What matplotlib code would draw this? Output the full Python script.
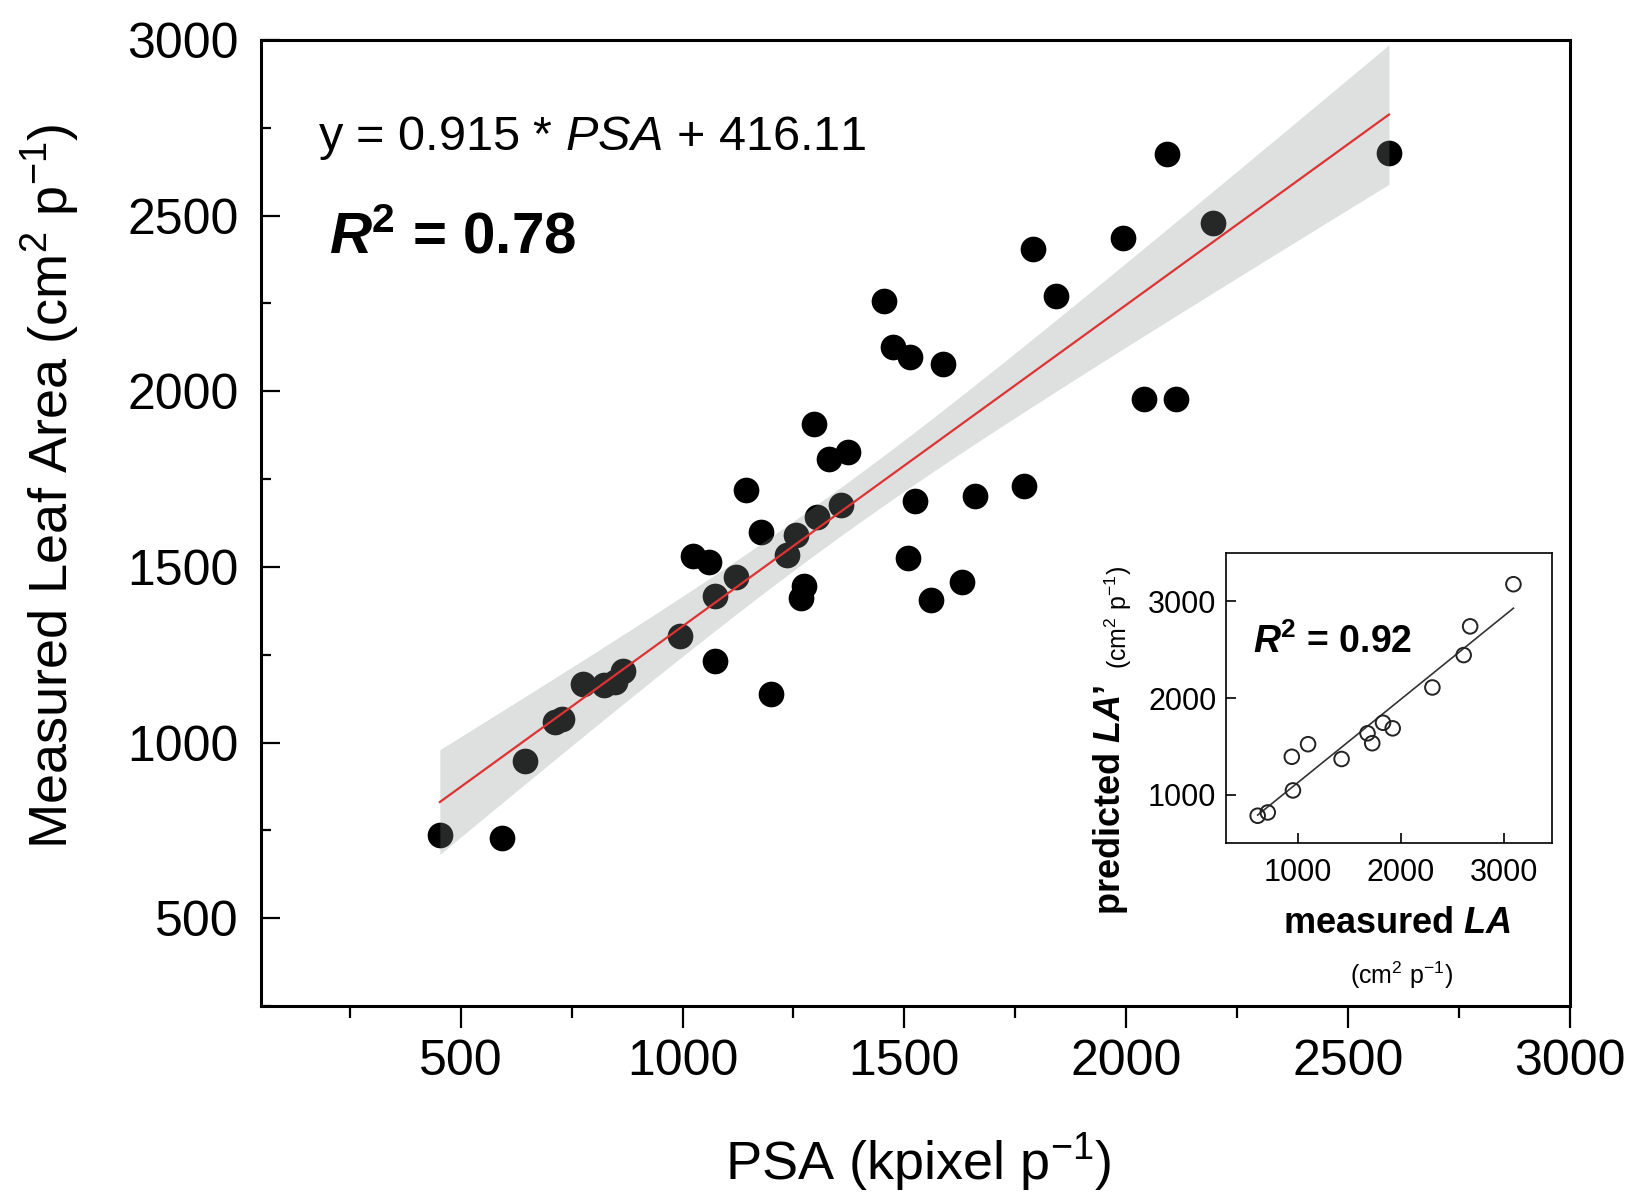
import numpy as np
import matplotlib
matplotlib.use("Agg")
import matplotlib.pyplot as plt
from matplotlib.ticker import MultipleLocator, FixedLocator

plt.rcParams['font.family'] = ['Liberation Sans', 'DejaVu Sans']
plt.rcParams['mathtext.fontset'] = 'custom'
plt.rcParams['mathtext.rm'] = 'Liberation Sans'
plt.rcParams['mathtext.it'] = 'Liberation Sans:italic'
plt.rcParams['mathtext.bf'] = 'Liberation Sans:bold'
plt.rcParams['mathtext.bfit'] = 'Liberation Sans:bold:italic'

# ---------------- data ----------------
psa = [453, 594, 646, 712, 729, 776, 823, 847, 865, 995,
       1073, 1073, 1120, 1023, 1059, 1144, 1177, 1200, 1236, 1255,
       1273, 1266, 1302, 1297, 1330, 1358, 1372, 1455, 1474, 1512,
       1507, 1523, 1561, 1587, 1629, 1658, 1769, 1790, 1842, 1993,
       2040, 2092, 2113, 2195, 2592]
leaf_area = [737, 729, 948, 1058, 1067, 1168, 1165, 1171, 1204, 1302,
             1233, 1417, 1471, 1530, 1515, 1720, 1599, 1138, 1533, 1592,
             1447, 1411, 1643, 1907, 1806, 1676, 1827, 2258, 2127, 2097,
             1524, 1688, 1406, 2079, 1456, 1702, 1729, 2406, 2270, 2436,
             1979, 2676, 1979, 2480, 2679]

SLOPE = 0.915
INTERCEPT = 416.11
R2_MAIN = 0.78
T_95 = 2.017   # t quantile, df = n - 2

measured_la = [608, 706, 951, 940, 1098, 1424, 1676, 1722, 1827, 1921,
               2307, 2611, 2674, 3095]
predicted_la = [782, 816, 1044, 1392, 1522, 1369, 1635, 1532, 1744, 1686,
                2109, 2444, 2741, 3177]
R2_INSET = 0.92

main_ticks = [500, 1000, 1500, 2000, 2500, 3000]
inset_ticks = [1000, 2000, 3000]

# ---------------- figure ----------------
W, H = 1638, 1201
fig = plt.figure(figsize=(W / 100, H / 100), dpi=100)

ax = fig.add_axes([261 / W, 1 - 1006 / H, 1309 / W, 966 / H])
x = np.array(psa, float)
y = np.array(leaf_area, float)

ax.scatter(x, y, s=18.5 ** 2, c='black', linewidths=0, zorder=2)

# regression line and confidence band
xs = np.linspace(x.min(), x.max(), 200)
ys = SLOPE * xs + INTERCEPT
n = len(x)
resid = y - (SLOPE * x + INTERCEPT)
s = np.sqrt(np.sum(resid ** 2) / (n - 2))
sxx = np.sum((x - x.mean()) ** 2)
half = T_95 * s * np.sqrt(1.0 / n + (xs - x.mean()) ** 2 / sxx)
ax.fill_between(xs, ys - half, ys + half, color='#8a9090', alpha=0.28,
                linewidth=0, zorder=3)
ax.plot(xs, ys, color='#dd3333', lw=1.6, zorder=4)

ax.set_xlim(50, 3000)
ax.set_ylim(250, 3000)
ax.xaxis.set_major_locator(FixedLocator(main_ticks))
ax.yaxis.set_major_locator(FixedLocator(main_ticks))
ax.xaxis.set_minor_locator(MultipleLocator(500, offset=250))
ax.yaxis.set_minor_locator(MultipleLocator(500, offset=250))
ax.tick_params(axis='x', which='major', direction='out', length=16, width=1.6,
               labelsize=36, pad=8)
ax.tick_params(axis='x', which='minor', direction='out', length=8.5, width=1.6)
ax.tick_params(axis='y', which='major', direction='in', length=14, width=1.6,
               labelsize=36, pad=16)
ax.tick_params(axis='y', which='minor', direction='in', length=7, width=1.6)
for sp in ax.spines.values():
    sp.set_linewidth(2.2)

ax.text(0.0435, 0.886, f'y = {SLOPE:.3f} * $\\mathit{{PSA}}$ + {INTERCEPT:.2f}',
        transform=ax.transAxes, fontsize=35, va='baseline', ha='left')
ax.text(0.052, 0.779, r'$\mathbfit{R}^{\mathbf{2}}$' + f' = {R2_MAIN:.2f}',
        transform=ax.transAxes, fontsize=42, fontweight='bold',
        va='baseline', ha='left')

fig.text(918 / W, 1 - 1163 / H, 'PSA (kpixel p$^{-1}$)', fontsize=39,
         ha='center', va='center')
fig.text(50 / W, 1 - 486 / H, 'Measured Leaf Area (cm$^2$ p$^{-1}$)',
         fontsize=39, rotation=90, ha='center', va='center')

# ---------------- inset ----------------
ax2 = fig.add_axes([1226 / W, 1 - 843 / H, 326 / W, 290 / H])
mx = np.array(measured_la, float)
py = np.array(predicted_la, float)
ax2.scatter(mx, py, s=10.5 ** 2, facecolors='none', edgecolors='#222222',
            linewidths=1.4, zorder=3)
b1, b0 = np.polyfit(mx, py, 1)
lx = np.linspace(mx.min(), mx.max(), 50)
ax2.plot(lx, b1 * lx + b0, color='#333333', lw=1.2, zorder=2)
ax2.set_xlim(300, 3470)
ax2.set_ylim(500, 3500)
ax2.xaxis.set_major_locator(FixedLocator(inset_ticks))
ax2.yaxis.set_major_locator(FixedLocator(inset_ticks))
ax2.tick_params(axis='both', which='major', direction='in', length=7, width=1.2,
                labelsize=22)
ax2.tick_params(axis='x', pad=11)
ax2.tick_params(axis='y', pad=7)
for sp in ax2.spines.values():
    sp.set_linewidth(1.2)
ax2.text(0.083, 0.655, r'$\mathbfit{R}^{\mathbf{2}}$' + f' = {R2_INSET:.2f}',
         transform=ax2.transAxes, fontsize=27, fontweight='bold',
         va='baseline', ha='left')

fig.text(1397 / W, 1 - 933 / H, r'measured $\mathbfit{LA}$', fontsize=26,
         fontweight='bold', ha='center', va='baseline')
fig.text(1401 / W, 1 - 975 / H, '(cm$^2$ p$^{-1}$)', fontsize=18,
         ha='center', va='center')
fig.text(1111 / W, 1 - 800 / H, r'predicted $\mathbfit{LA}$’', fontsize=26,
         fontweight='bold', rotation=90, ha='center', va='center')
fig.text(1118 / W, 1 - 618 / H, '(cm$^2$ p$^{-1}$)', fontsize=18,
         rotation=90, ha='center', va='center')

fig.savefig('out.png', dpi=100)
